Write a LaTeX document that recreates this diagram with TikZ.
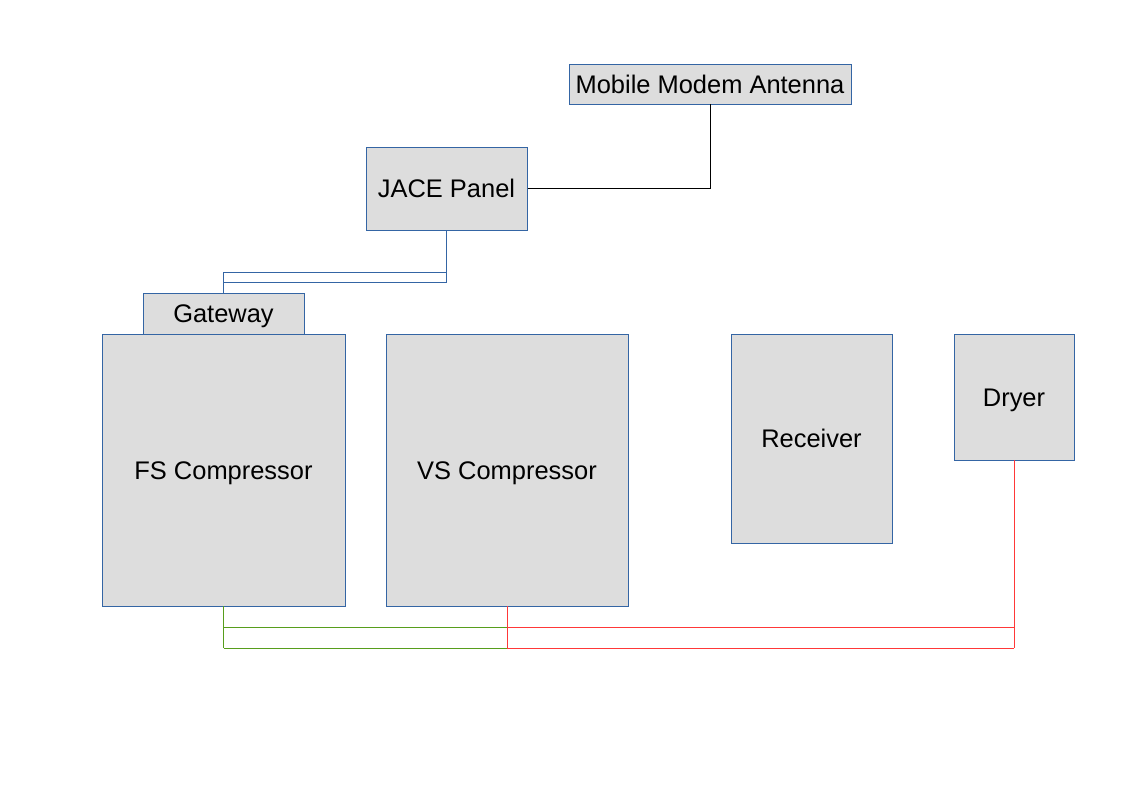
\documentclass[tikz,border=0pt]{standalone}
\usepackage{fontspec}
\setmainfont{Liberation Sans}
\definecolor{boxfill}{HTML}{DDDDDD}
\definecolor{boxline}{HTML}{3465A4}
\definecolor{wiregreen}{HTML}{579D1C}
\definecolor{wirered}{HTML}{FF3838}
\newcommand{\px}{0.025cm}
\tikzset{
    unit/.style={draw=boxline, fill=boxfill, line width=0.7pt, inner sep=0pt,
        text height=13pt, text depth=0pt,
        font=\fontsize{18.1}{21}\selectfont},
    bluewire/.style={draw=boxline, line width=0.7pt},
    greenwire/.style={draw=wiregreen, line width=0.7pt},
    redwire/.style={draw=wirered, line width=0.7pt},
    blackwire/.style={draw=black, line width=0.7pt}
}
\begin{document}
\begin{tikzpicture}[x=0.025cm, y=-0.025cm]

        \useasboundingbox (0,0) rectangle (1123,794);

        \node[unit, minimum width=282*\px, minimum height=40*\px] (ant) at (710, 84) {Mobile Modem Antenna};
        \node[unit, minimum width=161*\px, minimum height=83*\px] (jace) at (446.5, 188.5) {JACE Panel};
        \node[unit, minimum width=161*\px, minimum height=41*\px] (gw) at (223.5, 313.5) {Gateway};
        \node[unit, minimum width=243*\px, minimum height=272*\px] (fs) at (223.5, 470) {FS Compressor};
        \node[unit, minimum width=242*\px, minimum height=272*\px] (vs) at (507, 470) {VS Compressor};
        \node[unit, minimum width=161*\px, minimum height=209*\px] (rec) at (811.5, 438.5) {Receiver};
        \node[unit, minimum width=120*\px, minimum height=126*\px] (dry) at (1014, 397) {Dryer};

        \coordinate (gwA) at (223.5, 272);
        \coordinate (gwB) at (223.5, 282);
        \coordinate (jaceA) at (446.5, 272);
        \coordinate (jaceB) at (446.5, 282);
        \coordinate (fsA) at (223.5, 627);
        \coordinate (fsB) at (223.5, 648);
        \coordinate (vsA) at (507, 627);
        \coordinate (vsB) at (507, 648);
        \coordinate (dryA) at (1014, 627);
        \coordinate (dryB) at (1014, 648);

        \draw[blackwire] (jace.east) -| (ant.south);

        \draw[bluewire] (jace.south) -- (jaceB);
        \draw[bluewire] (gwA) -- (jaceA);
        \draw[bluewire] (gwB) -- (jaceB);
        \draw[bluewire] (gw.north) -- (gwA);

        \draw[greenwire] (fs.south) -- (fsB);
        \draw[greenwire] (fsA) -- (vsA);
        \draw[greenwire] (fsB) -- (vsB);

        \draw[redwire] (vs.south) -- (vsB);
        \draw[redwire] (vsA) -- (dryA);
        \draw[redwire] (vsB) -- (dryB);
        \draw[redwire] (dry.south) -- (dryB);

    \end{tikzpicture}
\end{document}
